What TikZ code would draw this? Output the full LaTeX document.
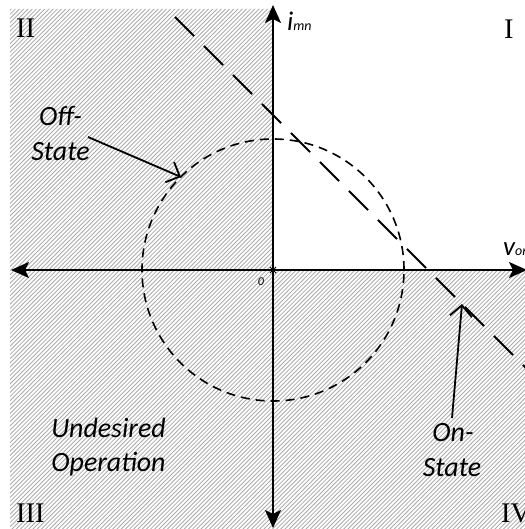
\documentclass[tikz,border=0pt]{standalone}
\usepackage{fontspec}
\setmainfont{Liberation Serif}
\newfontfamily\carl{Carlito}
\usetikzlibrary{arrows.meta}
\tikzset{
  hatch/.style={draw=gray!65, line width=0.85bp},
  axis/.style={line width=2bp, {Stealth[length=18bp,width=16bp,inset=4bp]}-{Stealth[length=18bp,width=16bp,inset=4bp]}},
  circdash/.style={draw, line width=1.6bp, dash pattern=on 9bp off 6bp},
  longdash/.style={line width=2bp, dash pattern=on 27bp off 14bp},
  pointer/.style={line width=1.8bp, -{Straight Barb[length=11bp,width=22bp]}},
  roman/.style={font=\fontsize{28.5}{30}\selectfont, inner sep=0, anchor=base west},
  lbl/.style={font=\carl\itshape\fontsize{28}{30}\selectfont, inner sep=0, anchor=base},
  axlbl/.style={font=\carl\itshape, inner sep=0, anchor=base west}
}
\begin{document}
\begin{tikzpicture}[x=1bp,y=-1bp]
\useasboundingbox (0,0) rectangle (525,529);
% hatched region (quadrants II, III, IV)
\begin{scope}
  \clip (10,9) -- (273,9) -- (273,270) -- (530,270) -- (530,535) -- (10,535) -- cycle;
  \foreach \i in {0,...,260} \draw[hatch] ({-540+4.2*\i},535) -- ++(545,-545);
\end{scope}
% coordinates
\coordinate (O) at (273,270);
\coordinate (L) at (11,270);
\coordinate (R) at (527,270);
\coordinate (T) at (273,5);
\coordinate (B) at (273,528);
% axes
\draw[axis] (L) -- (R);
\draw[axis] (B) -- (T);
% origin mark
\draw[line width=0.8bp] ([shift={(-3,-3)}]O) -- ([shift={(3,3)}]O) ([shift={(-3,3)}]O) -- ([shift={(3,-3)}]O);
% circle
\node[circle, circdash, minimum size=262bp, inner sep=0, outer sep=0] (C) at (O) {};
% load line
\coordinate (D1) at (175,17);
\coordinate (D2) at (535,377);
\draw[longdash] (D1) -- (D2);
% labels
\node[roman] (q2) at (16,38) {II};
\node[roman] (q1) at (504,39) {I};
\node[roman] (q3) at (16,522) {III};
\node[roman] (q4) at (501,522) {IV};
\node[axlbl] (ilab) at (287,31) {\fontsize{27}{27}\selectfont i\fontsize{14}{14}\selectfont mn};
\node[axlbl] (vlab) at (503,255) {\fontsize{27}{27}\selectfont v\fontsize{14}{14}\selectfont on};
\node[axlbl, anchor=base] (zero) at (261,285) {\fontsize{12}{12}\selectfont 0};
\node[lbl] (off1) at (60.5,126) {Off-};
\node[lbl] (off2) at (60.5,161) {State};
\node[lbl] (und1) at (108.5,437) {Undesired};
\node[lbl] (und2) at (108.5,471) {Operation};
\node[lbl] (on1) at (453,441) {On-};
\node[lbl] (on2) at (452,476) {State};
% pointers
\coordinate (offa) at (88,137);
\coordinate (offb) at (181,177);
\coordinate (ona) at (452,418);
\coordinate (onb) at (462,304);
\draw[pointer] (offa) -- (offb);
\draw[pointer] (ona) -- (onb);
\end{tikzpicture}
\end{document}
